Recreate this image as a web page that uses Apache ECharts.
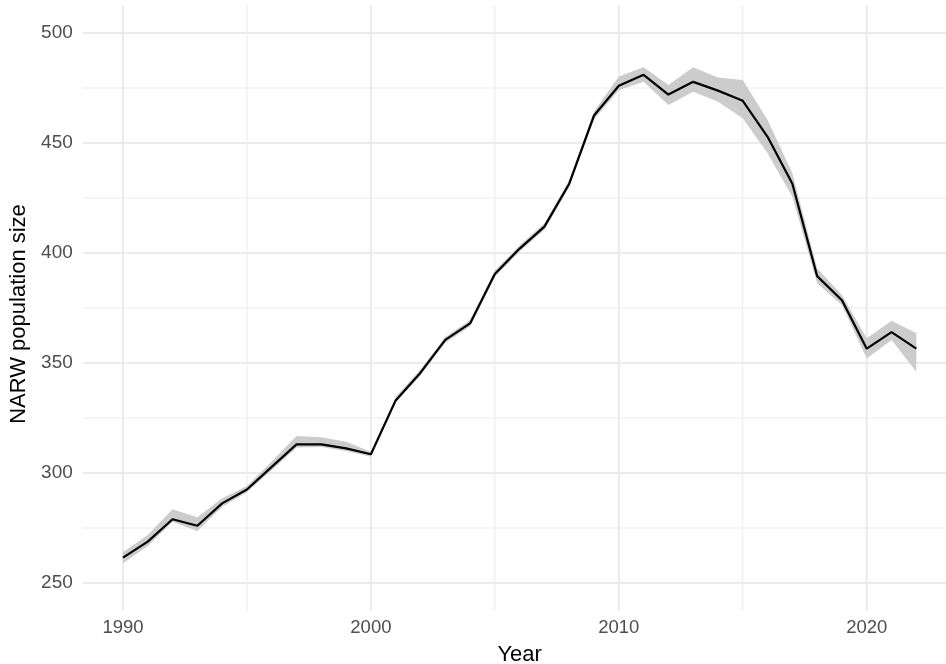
<!DOCTYPE html>
<html>
<head>
<meta charset="utf-8">
<script src="https://cdn.jsdelivr.net/npm/echarts@6/dist/echarts.min.js"></script>
<style>
  html, body { margin: 0; padding: 0; background: #ffffff; }
  #chart { width: 946px; height: 664px; }
</style>
</head>
<body>
<div id="chart"></div>
<script>
// North Atlantic right whale population estimates, with credible band
const years = [1990, 1991, 1992, 1993, 1994, 1995, 1996, 1997, 1998, 1999,
               2000, 2001, 2002, 2003, 2004, 2005, 2006, 2007, 2008, 2009,
               2010, 2011, 2012, 2013, 2014, 2015, 2016, 2017, 2018, 2019,
               2020, 2021, 2022];
const median = [261.5, 268.8, 279, 276, 286.2, 292.5, 302.8, 313, 313, 311.2,
                308.5, 333, 345.6, 360.5, 368, 390.5, 402, 412, 431.5, 462.5,
                476, 481, 472, 477.8, 473.8, 469.2, 452.8, 431.5, 389.5, 378.5,
                356.5, 364, 356.5];
const lower = [259, 266.8, 277.8, 273.6, 284.5, 291.2, 301.2, 311.6, 311.8, 310,
               307.4, 332, 344.3, 359.2, 366.6, 389.2, 400.7, 410.6, 430, 460.8,
               474, 477.8, 467.3, 473.3, 468.8, 461.2, 445.3, 425.6, 386.2, 376.4,
               352.1, 360.5, 346];
const upper = [264, 271.8, 283.5, 279.9, 288.5, 294.1, 305.2, 316.8, 316.2, 314.2,
               309.7, 334.5, 347, 361.8, 369.5, 392, 403.5, 413.5, 433.2, 464.3,
               480.2, 484.4, 476.4, 484.4, 479.8, 478.6, 460.5, 436.2, 393, 380.9,
               361.2, 369.2, 363.5];

// Axis breaks and gridlines
const yTicks = [250, 300, 350, 400, 450, 500];
const yMinor = [275, 325, 375, 425, 475];
const xTicks = [1990, 2000, 2010, 2020];
const xMinor = [1995, 2005, 2015];

const yRange = [237.5, 512.5];
const xRange = [1988.4, 2023.6];

const GRID_COLOR = '#ebebeb';
const MAJOR_W = 2;
const MINOR_W = 1;

const isTick = (v, list) => list.some(t => Math.abs(t - v) < 1e-6);

// gridline records: [orientation (0 = horizontal, 1 = vertical), value, width]
const gridRows = []
  .concat(yMinor.map(v => [0, v, MINOR_W]))
  .concat(xMinor.map(v => [1, v, MINOR_W]))
  .concat(yTicks.map(v => [0, v, MAJOR_W]))
  .concat(xTicks.map(v => [1, v, MAJOR_W]));

const bandRows = years.map((y, i) => [y, lower[i], upper[i]]);

function renderGrid(params, api) {
  const cs = params.coordSys;
  const orient = api.value(0);
  const v = api.value(1);
  const w = api.value(2);
  let shape;
  if (orient === 0) {
    const y = api.coord([xRange[0], v])[1];
    shape = { x1: cs.x, y1: y, x2: cs.x + cs.width, y2: y };
  } else {
    const x = api.coord([v, yRange[0]])[0];
    shape = { x1: x, y1: cs.y, x2: x, y2: cs.y + cs.height };
  }
  return {
    type: 'line',
    shape: shape,
    style: { stroke: GRID_COLOR, lineWidth: w },
    silent: true
  };
}

function renderBand(params, api) {
  if (params.dataIndex !== 0) return null;
  const top = bandRows.map(r => api.coord([r[0], r[2]]));
  const bottom = bandRows.map(r => api.coord([r[0], r[1]])).reverse();
  return {
    type: 'polygon',
    shape: { points: top.concat(bottom) },
    style: { fill: '#cccccc', stroke: null },
    silent: true
  };
}

const chart = echarts.init(document.getElementById('chart'), null, { renderer: 'canvas' });

chart.setOption({
  animation: false,
  backgroundColor: '#ffffff',
  grid: {
    left: 83.3, right: -10, top: 5.5, bottom: 53.5,
    containLabel: false,
    outerBoundsMode: 'none'
  },
  xAxis: {
    type: 'value',
    min: xRange[0],
    max: xRange[1],
    interval: 0.4,
    name: 'Year',
    nameLocation: 'middle',
    nameGap: 33,
    nameTextStyle: { color: '#000000', fontSize: 22, fontFamily: 'Liberation Sans' },
    axisLine: { show: false },
    axisTick: { show: false },
    splitLine: { show: false },
    axisLabel: {
      margin: 8,
      color: '#4d4d4d',
      fontSize: 18.5,
      fontFamily: 'Liberation Sans',
      showMinLabel: false,
      showMaxLabel: false,
      formatter: v => isTick(v, xTicks) ? String(Math.round(v)) : ''
    }
  },
  yAxis: {
    type: 'value',
    min: yRange[0],
    max: yRange[1],
    interval: 12.5,
    name: 'NARW population size',
    nameLocation: 'middle',
    nameGap: 52,
    nameTextStyle: {
      color: '#000000', fontSize: 22, fontFamily: 'Liberation Sans',
      padding: [0, 12, 0, 0]
    },
    axisLine: { show: false },
    axisTick: { show: false },
    splitLine: { show: false },
    axisLabel: {
      margin: 10.5,
      color: '#4d4d4d',
      fontSize: 19,
      fontFamily: 'Liberation Sans',
      showMinLabel: false,
      showMaxLabel: false,
      formatter: v => isTick(v, yTicks) ? String(Math.round(v)) : ''
    }
  },
  series: [
    {
      name: 'grid',
      type: 'custom',
      renderItem: renderGrid,
      data: gridRows,
      silent: true,
      clip: false,
      z: 0
    },
    {
      name: 'band',
      type: 'custom',
      renderItem: renderBand,
      data: bandRows,
      encode: { x: 0, y: [1, 2] },
      silent: true,
      z: 1
    },
    {
      name: 'median',
      type: 'line',
      data: years.map((y, i) => [y, median[i]]),
      symbol: 'none',
      lineStyle: { color: '#000000', width: 2.2 },
      z: 3
    }
  ]
});
</script>
</body>
</html>
